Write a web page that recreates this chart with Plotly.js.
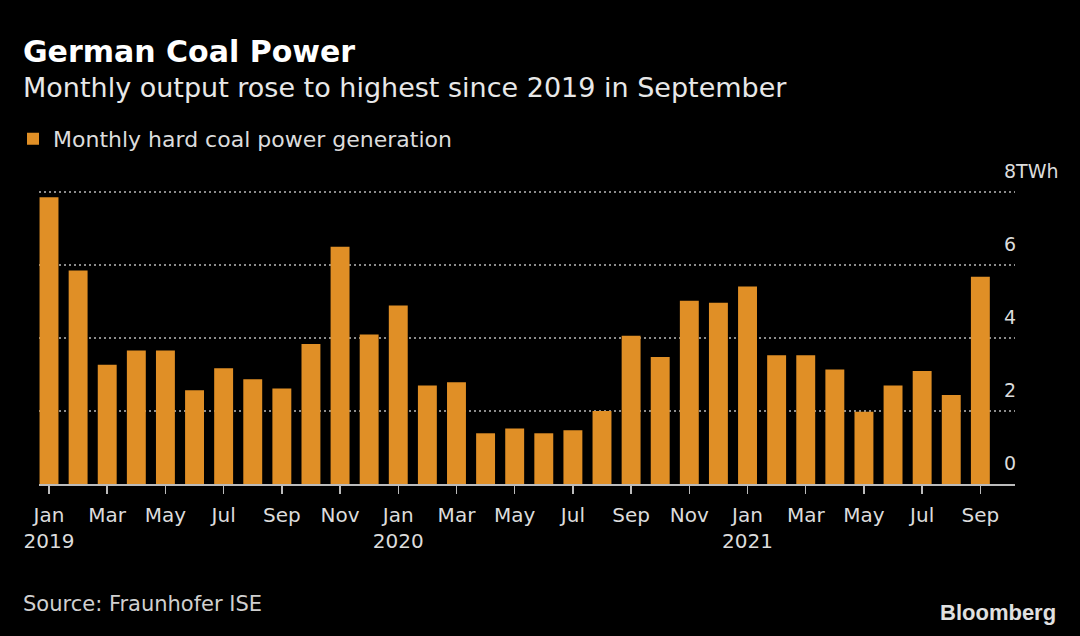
<!DOCTYPE html>
<html>
<head>
<meta charset="utf-8">
<script src="https://cdn.plot.ly/plotly-3.0.1.min.js"></script>
<style>
html,body{margin:0;padding:0;background:#000;}
#chart{width:1080px;height:636px;}
</style>
</head>
<body>
<div id="chart"></div>
<script>
// Data
const months = [
  "2019-01","2019-02","2019-03","2019-04","2019-05","2019-06","2019-07","2019-08","2019-09","2019-10","2019-11","2019-12",
  "2020-01","2020-02","2020-03","2020-04","2020-05","2020-06","2020-07","2020-08","2020-09","2020-10","2020-11","2020-12",
  "2021-01","2021-02","2021-03","2021-04","2021-05","2021-06","2021-07","2021-08","2021-09"
];
const generationTWh = [
  7.86, 5.85, 3.27, 3.66, 3.66, 2.57, 3.17, 2.87, 2.62, 3.84, 6.50, 4.10,
  4.89, 2.70, 2.79, 1.39, 1.52, 1.39, 1.47, 2.00, 4.06, 3.48, 5.02, 4.97,
  5.41, 3.53, 3.53, 3.14, 1.98, 2.70, 3.10, 2.44, 5.68
];
const xTickVals = ["2019-01","2019-03","2019-05","2019-07","2019-09","2019-11","2020-01","2020-03","2020-05","2020-07","2020-09","2020-11","2021-01","2021-03","2021-05","2021-07","2021-09"];
const xTickText = ["Jan<br>2019","Mar","May","Jul","Sep","Nov","Jan<br>2020","Mar","May","Jul","Sep","Nov","Jan<br>2021","Mar","May","Jul","Sep"];
const yTickVals = [0, 2, 4, 6, 8];
const yTickText = ["0", "2", "4", "6", "8TWh"];
const seriesName = "Monthly hard coal power generation";

const FONT = "'DejaVu Sans', 'Noto Sans', sans-serif";

const trace = {
  type: 'bar',
  x: months,
  y: generationTWh,
  name: seriesName,
  marker: {color: '#e08f26', line: {width: 0}},
  hoverinfo: 'x+y',
  showlegend: true
};

// plot area: x 39..1015, y ~191..484.5
const YMAX = 8.03;
const L = 39, R = 1015, B = 484.5;
const T = B - (B - 192.3) * YMAX / 8;
const px = v => (v - L) / (R - L);
const py = v => (B - v) / (B - T);

const layout = {
  width: 1080, height: 636,
  paper_bgcolor: '#000', plot_bgcolor: '#000',
  margin: {l: L, r: 1080 - R, t: T, b: 636 - B, pad: 0},
  font: {family: FONT, color: '#dcdcdc', size: 20},
  bargap: 0.35,
  showlegend: true,
  legend: {
    x: px(13), y: py(139), xanchor: 'left', yanchor: 'middle',
    font: {family: FONT, size: 22, color: '#dcdcdc'},
    bgcolor: 'rgba(0,0,0,0)', itemwidth: 30
  },
  xaxis: {
    type: 'category',
    categoryorder: 'array', categoryarray: months,
    range: [-0.344, 33.19],
    tickmode: 'array', tickvals: xTickVals, ticktext: xTickText,
    ticks: 'outside', ticklen: 8, tickwidth: 1.5, tickcolor: '#bbbbbb',
    showline: true, linecolor: '#bbbbbb', linewidth: 2,
    showgrid: false, zeroline: false,
    ticklabelstandoff: 4,
    tickfont: {family: FONT, size: 20, color: '#dcdcdc'},
    fixedrange: true
  },
  yaxis: {
    side: 'right',
    range: [0, YMAX],
    tickmode: 'array', tickvals: yTickVals, ticktext: yTickText,
    ticks: '', showline: false, zeroline: false,
    showgrid: true, gridcolor: '#8c8c8c', gridwidth: 1.3, griddash: '2px,3px',
    ticklabelposition: 'outside top',
    ticklabelstandoff: -12,
    ticklabelshift: -7,
    tickfont: {family: FONT, size: 19, color: '#dcdcdc'},
    fixedrange: true
  },
  annotations: [
    {text: '<b>German Coal Power</b>', xref: 'paper', yref: 'paper', x: px(21), y: py(52),
     xanchor: 'left', yanchor: 'middle', showarrow: false,
     font: {family: FONT, size: 30, color: '#ffffff'}},
    {text: 'Monthly output rose to highest since 2019 in September', xref: 'paper', yref: 'paper', x: px(21), y: py(88),
     xanchor: 'left', yanchor: 'middle', showarrow: false,
     font: {family: FONT, size: 27, color: '#e8e8e8'}},
    {text: 'Source: Fraunhofer ISE', xref: 'paper', yref: 'paper', x: px(21), y: py(605),
     xanchor: 'left', yanchor: 'middle', showarrow: false,
     font: {family: FONT, size: 21, color: '#d0d0d0'}},
    {text: '<b>Bloomberg</b>', xref: 'paper', yref: 'paper', x: px(1058), y: py(613),
     xanchor: 'right', yanchor: 'middle', showarrow: false,
     font: {family: "'Liberation Sans', Arial, sans-serif", size: 22, color: '#e0e0e0'}}
  ]
};

Plotly.newPlot('chart', [trace], layout, {displayModeBar: false, staticPlot: true});
</script>
</body>
</html>
